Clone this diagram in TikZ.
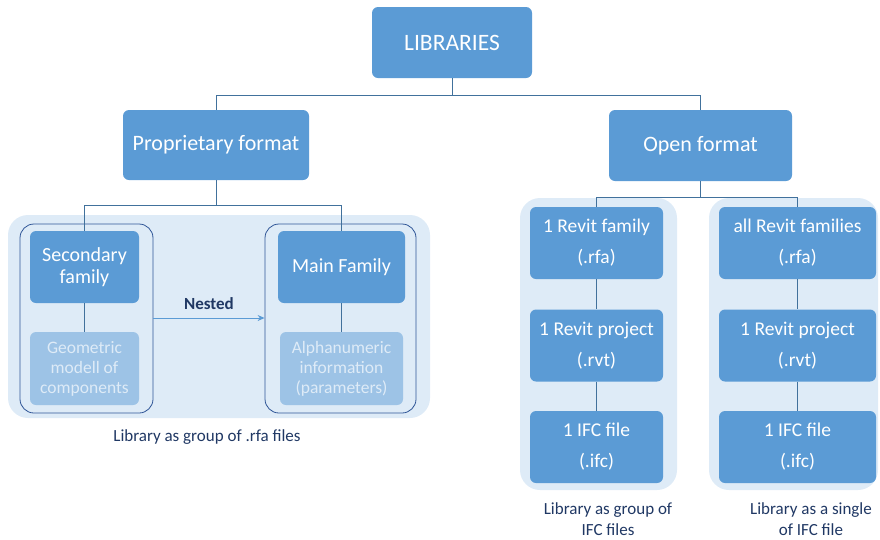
\documentclass[tikz,border=0pt]{standalone}
\usepackage{fontspec}
\setmainfont{Carlito}
\usetikzlibrary{arrows.meta}
\definecolor{boxblue}{HTML}{5B9BD5}
\definecolor{lightbox}{HTML}{9DC3E6}
\definecolor{bgblue}{HTML}{DEEBF7}
\definecolor{linecol}{HTML}{41719C}
\definecolor{outl}{HTML}{2F5597}
\definecolor{txtdark}{HTML}{203864}
\tikzset{
  mainbox/.style={fill=boxblue, draw=none, rounded corners=6pt, text=white, align=center, inner sep=0pt},
  subbox/.style={fill=lightbox, draw=none, rounded corners=6pt, text=bgblue, align=center, inner sep=0pt},
  groupbg/.style={fill=bgblue, draw=none, rounded corners=20pt},
  outbox/.style={draw=outl, line width=0.8pt, rounded corners=14pt},
  conn/.style={draw=linecol, line width=0.9pt},
  captext/.style={text=txtdark, align=center, font=\fontsize{17}{21}\selectfont},
}
\begin{document}
\begin{tikzpicture}[x=1pt,y=-1pt]
\useasboundingbox (0,0) rectangle (880,539);
% backgrounds
\node[groupbg, minimum width=422pt, minimum height=203pt] (bgL) at (219,316.5) {};
\node[groupbg, minimum width=157pt, minimum height=292pt] (bgM) at (598.5,344) {};
\node[groupbg, minimum width=169pt, minimum height=292pt] (bgR) at (793.5,344) {};
\node[outbox, minimum width=133pt, minimum height=189pt] (oL) at (86.5,318.5) {};
\node[outbox, minimum width=151pt, minimum height=189pt] (oR) at (340.5,318.5) {};
% top
\node[mainbox, minimum width=160pt, minimum height=71pt, font=\fontsize{23.5}{28}\selectfont] (lib) at (452,42.5) {LIBRARIES};
\node[mainbox, minimum width=186pt, minimum height=70pt, font=\fontsize{22}{26}\selectfont] (prop) at (216,145) {Proprietary format};
\node[mainbox, minimum width=183pt, minimum height=71pt, font=\fontsize{22}{26}\selectfont] (open) at (700.5,145.5) {Open format};
% proprietary
\node[mainbox, minimum width=109pt, minimum height=72pt, font=\fontsize{20}{22}\selectfont] (sec) at (84.5,267) {Secondary\\family};
\node[mainbox, minimum width=127pt, minimum height=72pt, font=\fontsize{20}{22}\selectfont] (mainf) at (341.5,267) {Main Family};
\node[subbox, minimum width=109pt, minimum height=73pt, font=\fontsize{17.5}{20}\selectfont] (geo) at (84.5,368.5) {Geometric\\modell of\\components};
\node[subbox, minimum width=123pt, minimum height=73pt, font=\fontsize{17.5}{20}\selectfont] (alpha) at (341.5,368.5) {Alphanumeric\\information\\(parameters)};
% open
\tikzset{colM/.style={mainbox, minimum width=133pt, minimum height=72pt, font=\fontsize{19.5}{31}\selectfont},
         colR/.style={mainbox, minimum width=157pt, minimum height=72pt, font=\fontsize{19.5}{31}\selectfont}}
\node[colM] (m1) at (596.5,243) {1 Revit family\\(.rfa)};
\node[colM] (m2) at (596.5,345.5) {1 Revit project\\(.rvt)};
\node[colM] (m3) at (596.5,447) {1 IFC file\\(.ifc)};
\node[colR] (r1) at (797.5,243) {all Revit families\\(.rfa)};
\node[colR] (r2) at (797.5,345.5) {1 Revit project\\(.rvt)};
\node[colR] (r3) at (797.5,447) {1 IFC file\\(.ifc)};
% connectors
\coordinate (j1) at (452,95);
\draw[conn] (lib.south) -- (j1) -| (prop.north);
\draw[conn] (j1) -| (open.north);
\coordinate (j2) at (216,205);
\draw[conn] (prop.south) -- (j2) -| (sec.north);
\draw[conn] (j2) -| (mainf.north);
\coordinate (j3) at (700.5,197);
\draw[conn] (open.south) -- (j3) -| (m1.north);
\draw[conn] (j3) -| (r1.north);
\draw[conn] (sec) -- (geo);
\draw[conn] (mainf) -- (alpha);
\draw[conn] (m1) -- (m2);
\draw[conn] (m2) -- (m3);
\draw[conn] (r1) -- (r2);
\draw[conn] (r2) -- (r3);
\draw[draw=boxblue, line width=1pt, -{Stealth[length=7pt,width=6pt]}] (oL.east |- 0,318) -- node[above=5pt, text=txtdark, font=\fontsize{17}{20}\selectfont\bfseries] (nest) {Nested} (oR.west |- 0,318);
% captions
\node[captext] (c1) at (207,437) {Library as group of .rfa files};
\node[captext] (c2) at (608,519.5) {Library as group of\\IFC files};
\node[captext] (c3) at (811,519.5) {Library as a single\\of IFC file};
\end{tikzpicture}
\end{document}
